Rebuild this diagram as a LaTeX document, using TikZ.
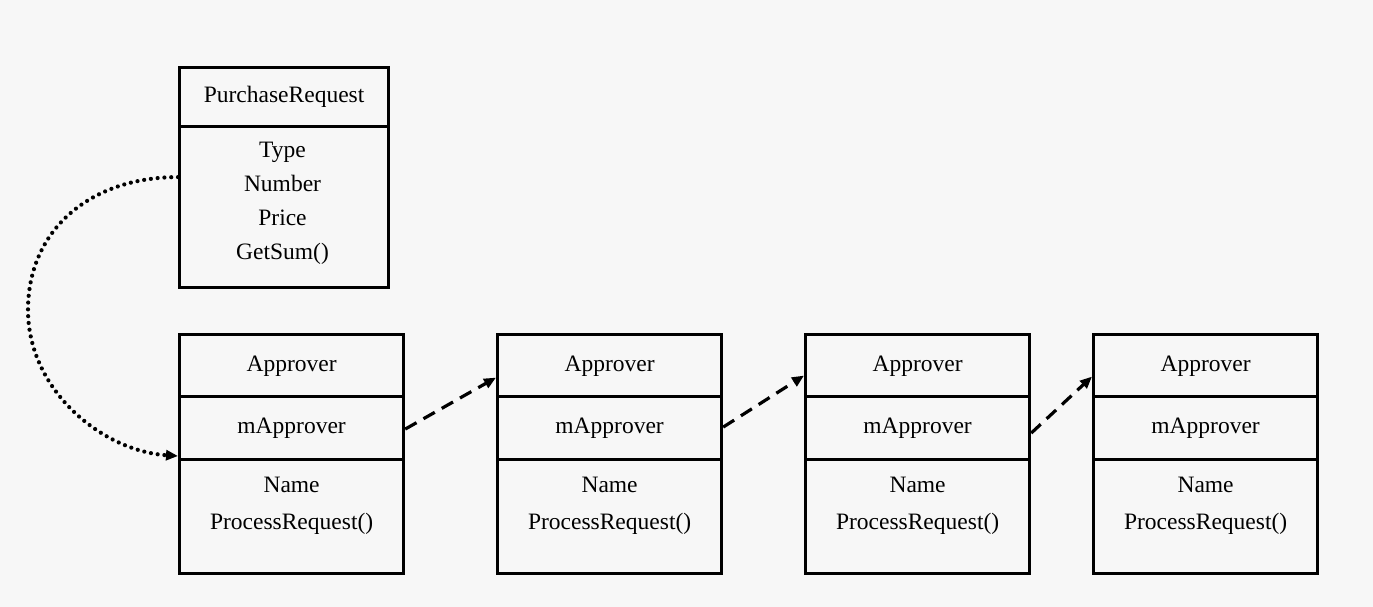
\documentclass[tikz,border=0pt]{standalone}
\usepackage{fontspec}
\setmainfont{Liberation Serif}
\usetikzlibrary{arrows.meta,calc}
\definecolor{bg}{HTML}{F7F7F7}
\begin{document}
\begin{tikzpicture}[x=1pt,y=-1pt,
  comp/.style={draw=black,line width=3.2pt,anchor=north west,inner sep=0pt,minimum width=224pt},
  txt/.style={font=\fontsize{23.5}{28}\selectfont,inner sep=0pt,text height=16pt,text depth=5pt},
  nextlink/.style={line width=3.2pt,dash pattern=on 13pt off 8pt,-{Triangle[length=12pt,width=10pt]}},
  reqlink/.style={line width=4.2pt,line cap=round,dash pattern=on 0pt off 6.8pt,-{Triangle[length=12pt,width=10pt]}}]
\useasboundingbox[fill=bg] (0,0) rectangle (1373,607);
% PurchaseRequest
\node[comp,minimum width=209pt,minimum height=59pt] (prh) at (178,66) {};
\node[comp,minimum width=209pt,minimum height=161pt] (prb) at (178,125) {};
\node[txt] (prht) at (prh.center) {PurchaseRequest};
\node[txt] (pr1) at (282.5,152) {Type};
\node[txt] (pr2) at (282.5,186) {Number};
\node[txt] (pr3) at (282.5,220) {Price};
\node[txt] (pr4) at (282.5,254) {GetSum()};
% Approver boxes
\newcommand\apbox[2]{%
  \node[comp,minimum height=62pt] (#1h) at (#2,333) {};
  \node[comp,minimum height=63pt] (#1m) at (#2,395) {};
  \node[comp,minimum height=114pt] (#1b) at (#2,458) {};
  \node[txt] (#1ht) at (#1h.center) {Approver};
  \node[txt] (#1mt) at (#1m.center) {mApprover};
  \node[txt] (#1n) at ($(#1b.north)+(0,29)$) {Name};
  \node[txt] (#1p) at ($(#1b.north)+(0,66)$) {ProcessRequest()};
}
\apbox{a1}{178}
\apbox{a2}{496}
\apbox{a3}{804}
\apbox{a4}{1092}
% links
\draw[nextlink] ([yshift=-1pt]a1m.east) -- ([yshift=-12pt]a2h.west);
\draw[nextlink] ([yshift=1pt]a2m.east) -- ([yshift=-10pt]a3h.west);
\draw[nextlink] ([yshift=-5pt]a3m.east) -- ([yshift=-11pt]a4h.west);
\coordinate (loop) at (28,310);
\draw[reqlink] ([yshift=30pt]prb.west) .. controls +(-88,0) and +(0,-80) .. (loop)
  .. controls +(0,80) and +(-76,-5) .. ([yshift=2pt]a1b.north west);
\end{tikzpicture}
\end{document}
